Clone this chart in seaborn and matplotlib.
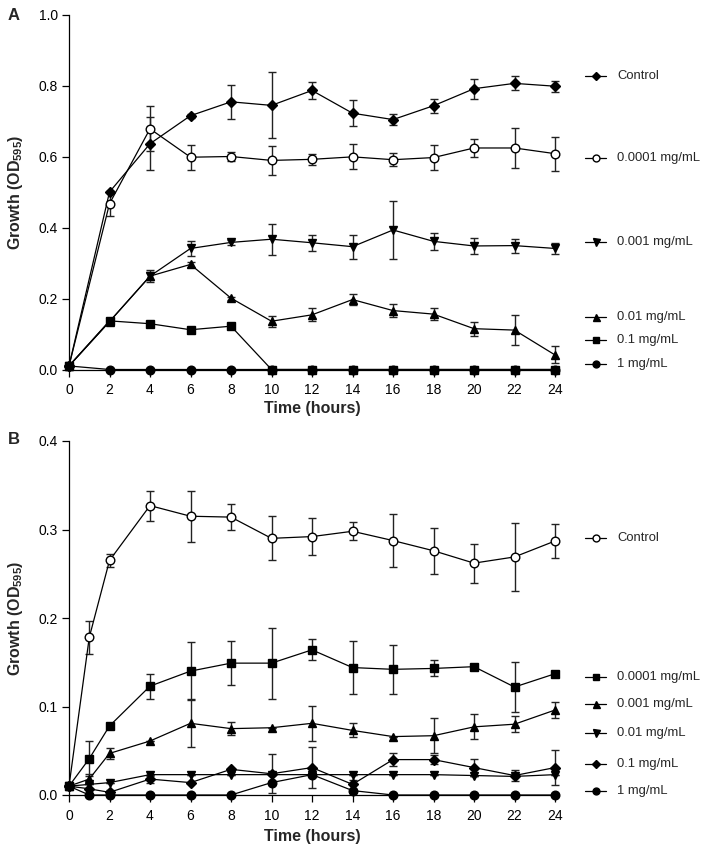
import numpy as np
import pandas as pd
import matplotlib
matplotlib.use("Agg")
import matplotlib.pyplot as plt
from matplotlib.lines import Line2D
import seaborn as sns

# ---------------- data ----------------
tA = [0, 2, 4, 6, 8, 10, 12, 14, 16, 18, 20, 22, 24]
A_labels = ["Control", "0.0001 mg/mL", "0.001 mg/mL", "0.01 mg/mL", "0.1 mg/mL", "1 mg/mL"]
A_control = [0.01, 0.50, 0.636, 0.715, 0.754, 0.744, 0.786, 0.722, 0.704, 0.743, 0.791, 0.806, 0.798]
A_control_err = [0, 0, 0.075, 0.006, 0.048, 0.093, 0.024, 0.037, 0.016, 0.02, 0.028, 0.02, 0.016]
A_c0001 = [0.01, 0.467, 0.678, 0.598, 0.600, 0.589, 0.592, 0.599, 0.591, 0.597, 0.624, 0.624, 0.608]
A_c0001_err = [0, 0.035, 0.063, 0.035, 0.012, 0.04, 0.016, 0.035, 0.018, 0.035, 0.025, 0.056, 0.048]
A_c001 = [0.01, 0.135, 0.263, 0.341, 0.358, 0.367, 0.357, 0.346, 0.393, 0.361, 0.348, 0.349, 0.341]
A_c001_err = [0, 0, 0.017, 0.021, 0.006, 0.044, 0.022, 0.034, 0.081, 0.023, 0.023, 0.02, 0.015]
A_c01 = [0.01, 0.135, 0.263, 0.296, 0.201, 0.136, 0.154, 0.197, 0.166, 0.156, 0.115, 0.111, 0.041]
A_c01_err = [0, 0, 0.012, 0.006, 0.004, 0.016, 0.018, 0.015, 0.018, 0.017, 0.02, 0.043, 0.024]
A_c1 = [0.01, 0.137, 0.129, 0.112, 0.122, 0, 0, 0, 0, 0, 0, 0, 0]
A_c1_err = [0, 0.006, 0.006, 0.008, 0.006, 0, 0, 0, 0, 0, 0, 0, 0]
A_c10 = [0.01, 0, 0, 0, 0, 0, 0, 0, 0, 0, 0, 0, 0]
A_c10_err = [0] * 13

tB = [0, 1, 2, 4, 6, 8, 10, 12, 14, 16, 18, 20, 22, 24]
B_labels = ["Control", "0.0001 mg/mL", "0.001 mg/mL", "0.01 mg/mL", "0.1 mg/mL", "1 mg/mL"]
B_control = [0.01, 0.178, 0.265, 0.327, 0.315, 0.314, 0.290, 0.292, 0.298, 0.2875, 0.276, 0.262, 0.269, 0.287]
B_control_err = [0, 0.019, 0.007, 0.017, 0.029, 0.015, 0.025, 0.021, 0.01, 0.03, 0.026, 0.022, 0.038, 0.019]
B_c0001 = [0.01, 0.041, 0.078, 0.123, 0.140, 0.149, 0.149, 0.164, 0.144, 0.142, 0.143, 0.145, 0.122, 0.137]
B_c0001_err = [0, 0.02, 0, 0.014, 0.033, 0.025, 0.04, 0.012, 0.03, 0.028, 0.009, 0, 0.028, 0]
B_c001 = [0.01, 0.018, 0.047, 0.061, 0.081, 0.075, 0.076, 0.081, 0.073, 0.066, 0.067, 0.077, 0.080, 0.096]
B_c001_err = [0, 0.006, 0.006, 0, 0.027, 0.007, 0, 0.02, 0.008, 0, 0.02, 0.014, 0.009, 0.0095]
B_c01 = [0.01, 0.012, 0.014, 0.023, 0.023, 0.023, 0.023, 0.023, 0.023, 0.023, 0.023, 0.022, 0.021, 0.023]
B_c01_err = [0] * 14
B_c1 = [0.01, 0.007, 0.003, 0.018, 0.014, 0.029, 0.024, 0.031, 0.012, 0.040, 0.040, 0.031, 0.022, 0.031]
B_c1_err = [0, 0, 0.003, 0.004, 0, 0, 0.022, 0.023, 0.005, 0.007, 0.005, 0.01, 0.006, 0.02]
B_c10 = [0.01, 0, 0, 0, 0, 0, 0.014, 0.023, 0.005, 0, 0, 0, 0, 0]
B_c10_err = [0] * 14

A_yticks = [0.0, 0.2, 0.4, 0.6, 0.8, 1.0]
B_yticks = [0.0, 0.1, 0.2, 0.3, 0.4]
xticks = [0, 2, 4, 6, 8, 10, 12, 14, 16, 18, 20, 22, 24]

# ---------------- style ----------------
sns.set_style("ticks")
plt.rcParams['font.family'] = ['Liberation Sans', 'DejaVu Sans']
plt.rcParams['mathtext.fontset'] = 'custom'
plt.rcParams['mathtext.rm'] = 'Liberation Sans'
plt.rcParams['mathtext.bf'] = 'Liberation Sans:bold'

W, H = 709, 851
fig = plt.figure(figsize=(W / 100, H / 100), dpi=100)

def fx(px):
    return px / W

def fy(py):
    return 1 - py / H

# marker style: (marker, size, facecolor)
MK = {
    "D": ("D", 4.8, "black"),
    "o_open": ("o", 6.2, "white"),
    "v": ("v", 6.3, "black"),
    "^": ("^", 6.3, "black"),
    "s": ("s", 5.3, "black"),
    "o": ("o", 6.2, "black"),
}

def panel(ax_rect, t, series, ylim, yticks, letter, letter_y, legend_y, xlabel_y):
    ax = fig.add_axes(ax_rect)
    for vals, errs, mk, lab in series:
        m, ms, fc = MK[mk]
        ax.errorbar(t, vals, yerr=errs, fmt='none', ecolor='#222222', elinewidth=1.0,
                    capsize=3.2, capthick=1.0, zorder=2, clip_on=False)
        df = pd.DataFrame({"t": t, "v": vals})
        sns.lineplot(data=df, x="t", y="v", ax=ax, color="black", linewidth=0.9,
                     marker=m, markersize=ms, markerfacecolor=fc, markeredgecolor="black",
                     markeredgewidth=1.0, clip_on=False, zorder=3, legend=False,
                     errorbar=None, sort=False)
    ax.set_xlim(0, 24)
    ax.set_ylim(*ylim)
    ax.set_xticks(xticks)
    ax.set_yticks(yticks)
    ax.set_yticklabels([f"{v:.1f}" for v in yticks])
    ax.tick_params(axis='both', labelsize=10, length=5, width=0.9, colors='black', pad=3)
    ax.tick_params(axis='x', pad=5)
    for s in ["top", "right"]:
        ax.spines[s].set_visible(False)
    for s in ["left", "bottom"]:
        ax.spines[s].set_linewidth(0.9)
        ax.spines[s].set_color('black')
    ax.set_xlabel("")
    ax.set_ylabel("")
    bottom_px = (1 - ax_rect[1]) * H
    top_px = (1 - ax_rect[1] - ax_rect[3]) * H
    fig.text(fx(312), fy(xlabel_y), "Time (hours)", ha='center', va='center',
             fontsize=11.5, fontweight='bold')
    fig.text(fx(16), fy((bottom_px + top_px) / 2), r"Growth (OD$_{\mathbf{595}}$)",
             ha='center', va='center', rotation=90, fontsize=11.5, fontweight='bold')
    fig.text(fx(14), fy(letter_y), letter, ha='center', va='center', fontsize=12, fontweight='bold')
    for (vals, errs, mk, lab), ly in zip(series, legend_y):
        m, ms, fc = MK[mk]
        fig.add_artist(Line2D([fx(585), fx(606)], [fy(ly), fy(ly)], color='black', lw=0.9))
        fig.add_artist(Line2D([fx(595.5)], [fy(ly)], marker=m, markersize=ms * 0.8,
                              markerfacecolor=fc, markeredgecolor='black', markeredgewidth=1.0))
        fig.text(fx(617), fy(ly), lab, ha='left', va='center', fontsize=9.4)
    return ax

seriesA = [
    (A_control, A_control_err, "D", A_labels[0]),
    (A_c0001, A_c0001_err, "o_open", A_labels[1]),
    (A_c001, A_c001_err, "v", A_labels[2]),
    (A_c01, A_c01_err, "^", A_labels[3]),
    (A_c1, A_c1_err, "s", A_labels[4]),
    (A_c10, A_c10_err, "o", A_labels[5]),
]
rectA = [fx(69), fy(369.5), fx(555) - fx(69), fy(14.5) - fy(369.5)]
panel(rectA, tA, seriesA, (0, 1.0), A_yticks, "A", 15,
      [76, 157.7, 241.7, 316.7, 340, 364], 408)

seriesB = [
    (B_control, B_control_err, "o_open", B_labels[0]),
    (B_c0001, B_c0001_err, "s", B_labels[1]),
    (B_c001, B_c001_err, "^", B_labels[2]),
    (B_c01, B_c01_err, "v", B_labels[3]),
    (B_c1, B_c1_err, "D", B_labels[4]),
    (B_c10, B_c10_err, "o", B_labels[5]),
]
rectB = [fx(69), fy(795), fx(555) - fx(69), fy(441) - fy(795)]
panel(rectB, tB, seriesB, (0, 0.4), B_yticks, "B", 440,
      [538.3, 676.7, 704.3, 733.3, 764, 791], 836)

fig.savefig("out.png", dpi=100)
